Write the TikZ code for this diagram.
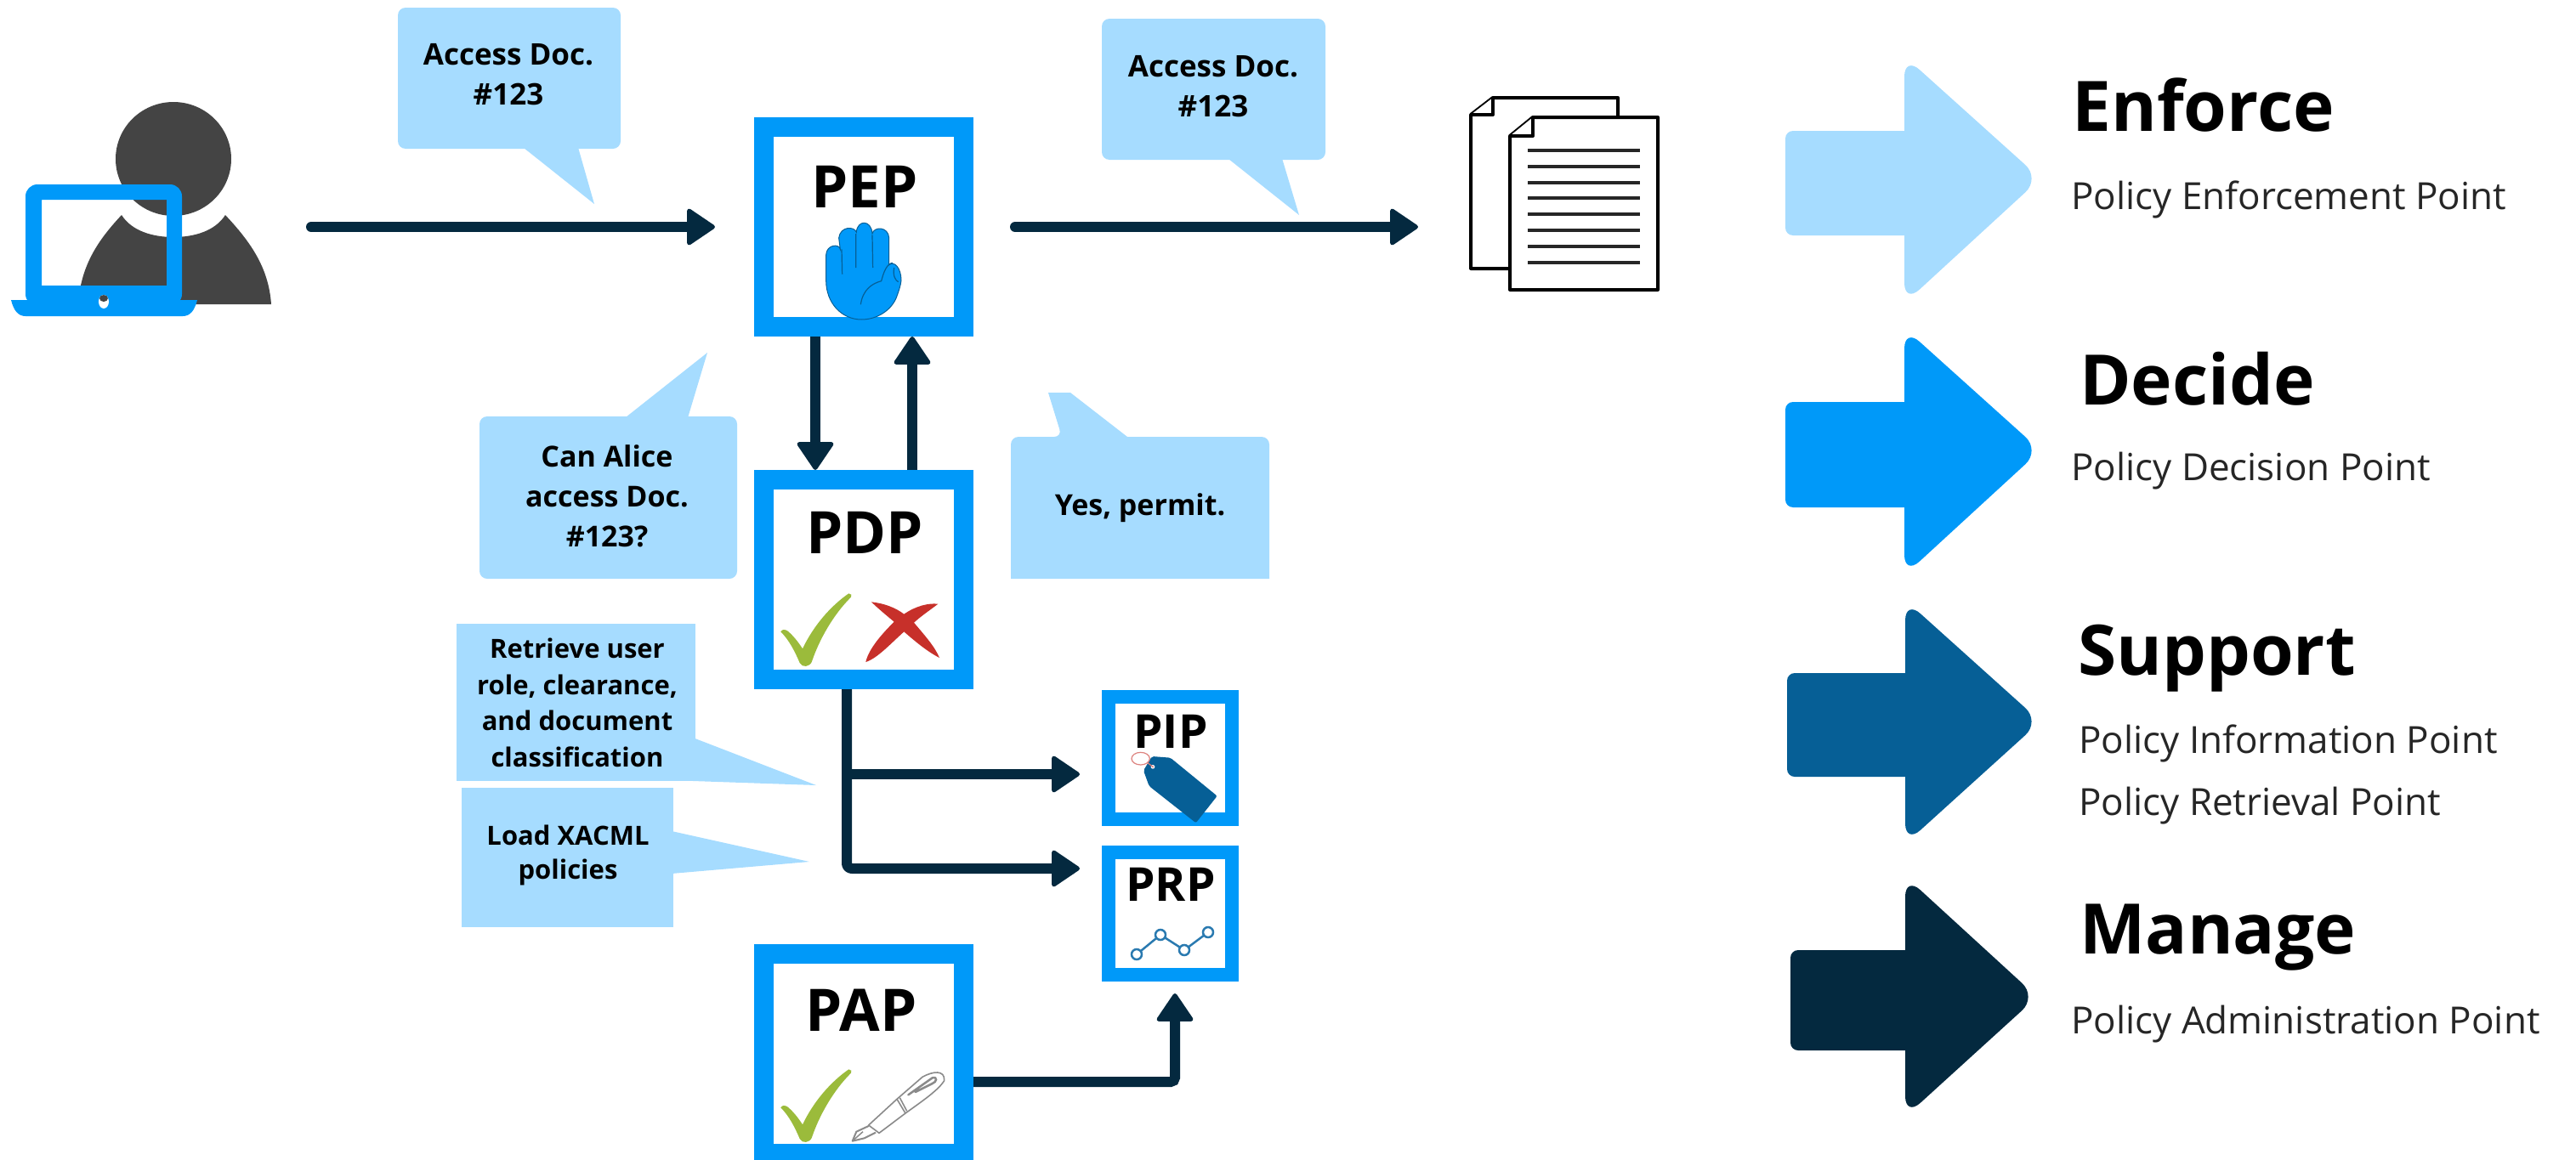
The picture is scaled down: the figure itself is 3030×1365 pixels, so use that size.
\documentclass[tikz,border=0pt]{standalone}
\usepackage{fontspec}
\setmainfont{Open Sans}
\usetikzlibrary{arrows.meta}
\definecolor{lightb}{HTML}{A6DCFF}
\definecolor{brightb}{HTML}{0099F9}
\definecolor{midb}{HTML}{065F96}
\definecolor{darkb}{HTML}{04293F}
\definecolor{persong}{HTML}{444444}
\definecolor{okgreen}{HTML}{9BBB3B}
\definecolor{nored}{HTML}{C7302A}
\definecolor{penline}{HTML}{8A8A8A}
\definecolor{chartb}{HTML}{2A7AB0}
\newcommand{\fs}[2]{\fontsize{#1}{#2}\selectfont}
\newcommand{\greencheck}[2]{%
  \begin{scope}[shift={(#1,#2)},scale=1/3]
    \fill[okgreen] (55,190) .. controls (60,180) and (72,182) .. (80,188) .. controls (100,205) and (118,228) .. (132,250) .. controls (170,170) and (230,100) .. (295,55) .. controls (303,55) and (308,62) .. (303,68) .. controls (240,130) and (190,220) .. (165,295) .. controls (158,315) and (130,318) .. (122,300) .. controls (105,260) and (85,220) .. (55,190) -- cycle;
  \end{scope}}
\newcommand{\bigarrow}[9]{% colour, left, baseX, apexTop, shaftTop, tipY, shaftBot, apexBot, tipX
  \fill[#1,rounded corners=9pt] (#2,#5) [sharp corners] -- (#3,#5) [rounded corners=24pt] -- (#3,#4) -- (#9,#6) -- (#3,#8) [sharp corners] -- (#3,#7) [rounded corners=9pt] -- (#2,#7) -- cycle;}
\tikzset{
  bubble/.style={fill=lightb,rounded corners=9pt,minimum width=#1},
  bubbletail/.style={fill=lightb},
  boxbig/.style={draw=brightb,fill=white,line width=23pt,minimum width=235pt,minimum height=235pt,inner sep=0pt},
  boxsmall/.style={draw=brightb,fill=white,line width=16pt,minimum width=145pt,minimum height=144pt,inner sep=0pt},
  conn/.style={draw=darkb,line width=12pt,line cap=round,-{Triangle[length=35pt,width=46pt,line width=5pt,round]},color=darkb},
  bublabel/.style={font=\bfseries\fs{35}{47},align=center,text=black,inner sep=0pt},
  smalllabel/.style={font=\bfseries\fs{31}{42.5},align=center,text=black,inner sep=0pt},
  bigbox text/.style={font=\bfseries\fs{69}{80},anchor=base,inner sep=0pt},
  smallbox text/.style={font=\bfseries\fs{55}{60},anchor=base,inner sep=0pt},
  headtxt/.style={font=\bfseries\fs{82}{90},anchor=base west,inner sep=0pt},
  subtxt/.style={font=\fs{44}{50},anchor=base west,inner sep=0pt,text=black!85},
  doc/.style={draw=black,fill=white,line width=4pt,line join=round},
}
\begin{document}
\begin{tikzpicture}[x=1pt,y=-1pt]
\useasboundingbox (0,0) rectangle (3030,1365);
% person and laptop
\fill[persong] (204,187) ellipse [x radius=68,y radius=67];
\fill[persong] (92,358) .. controls (95,310) and (118,280) .. (143,253) .. controls (155,272) and (180,279) .. (204,279) .. controls (228,279) and (253,272) .. (265,253) .. controls (295,285) and (316,315) .. (319,358) -- cycle;
\fill[brightb,even odd rule,rounded corners=14pt] (30,217) rectangle (214,360) [sharp corners] (49,235) rectangle (196,336);
\fill[brightb] (13,353) -- (232,353) .. controls (229,365) and (224,372) .. (215,372) -- (30,372) .. controls (21,372) and (16,365) .. (13,353) -- cycle;
\fill[white] (122,355) ellipse [x radius=6,y radius=8];
\fill[persong] (122,351) ellipse [x radius=5,y radius=4];
% bubbles
\fill[bubbletail] (611,170) -- (699,240) -- (679,170) -- cycle;
\node[bubble=262pt,minimum height=166pt] (b1) at (599,92) {};
\node[bublabel] (b1t) at (598,88) {Access Doc.\\\#123};
\fill[bubbletail] (1440,183) -- (1528,253) -- (1507,183) -- cycle;
\node[bubble=263pt,minimum height=166pt] (b2) at (1427.5,105) {};
\node[bublabel] (b2t) at (1427,102) {Access Doc.\\\#123};
\fill[bubbletail] (731,495) -- (832,415) -- (808,495) -- cycle;
\node[bubble=303pt,minimum height=191pt] (b3) at (715.5,585.5) {};
\node[bublabel,font=\bfseries\fs{34}{47}] (b3t) at (714,584) {Can Alice\\access Doc.\\\#123?};
\fill[bubbletail,rounded corners=9pt] (1189,681) -- (1189,514) -- (1249,514) [sharp corners] -- (1233,462) -- (1259,462) -- (1326,514) [rounded corners=9pt] -- (1493,514) [sharp corners] -- (1493,681) -- cycle;
\node[bublabel,font=\bfseries\fs{34}{47},anchor=center] (b4t) at (1341,598) {Yes, permit.};
\fill[bubbletail] (537,734) rectangle (818,919);
\fill[bubbletail] (815,868) -- (960,924) -- (815,919) -- cycle;
\node[smalllabel] (b5t) at (679,827) {Retrieve user\\role, clearance,\\and document\\classification};
\fill[bubbletail] (543,927) rectangle (792,1091);
\fill[bubbletail] (790,978) -- (952,1014) -- (790,1028) -- cycle;
\node[smalllabel,font=\bfseries\fs{31}{40}] (b6t) at (668,1006) {Load XACML\\policies};
% boxes
\node[boxbig] (pep) at (1016,267) {};
\node[boxbig] (pdp) at (1016,682) {};
\node[boxbig] (pap) at (1016,1239.5) {};
\node[boxsmall] (pip) at (1376.5,892) {};
\node[boxsmall] (prp) at (1376.5,1075) {};
\node[bigbox text] (peptxt) at (1017,244) {PEP};
\node[bigbox text] (pdptxt) at (1017,651) {PDP};
\node[bigbox text] (paptxt) at (1013,1213) {PAP};
\node[smallbox text] (piptxt) at (1377,880) {PIP};
\node[smallbox text] (prptxt) at (1377,1060) {PRP};
% hand
\begin{scope}[shift={(880,130)},scale=1/3]
  \fill[brightb,draw=midb,line width=1pt] (275,600) -- (275,510) .. controls (277,472) and (322,470) .. (325,490) -- (320,450) .. controls (325,408) and (375,408) .. (382,430) .. controls (385,385) and (435,385) .. (438,435) .. controls (445,408) and (495,410) .. (497,450) -- (497,545) .. controls (515,530) and (540,555) .. (540,600) .. controls (538,620) and (530,640) .. (525,655) .. controls (510,700) and (460,738) .. (400,738) .. controls (330,738) and (275,680) .. (275,600) -- cycle;
  \draw[midb,line width=1.2pt] (330,490) -- (332,578) (380,435) -- (380,555) (438,440) -- (440,555);
  \draw[midb,line width=1.2pt] (397,685) .. controls (405,630) and (440,610) .. (470,602) .. controls (478,570) and (490,540) .. (510,538);
  \draw[midb,line width=1.2pt] (515,555) .. controls (510,585) and (520,600) .. (530,605);
\end{scope}
% checks and cross
\greencheck{900}{680}
\greencheck{900}{1240}
\begin{scope}[shift={(900,680)},scale=1/3]
  \fill[nored] (375,85) .. controls (420,90) and (460,105) .. (490,128) .. controls (530,100) and (575,88) .. (610,92) .. controls (580,115) and (550,135) .. (525,158) .. controls (565,205) and (600,245) .. (615,282) .. controls (575,262) and (530,225) .. (490,190) .. controls (445,230) and (395,285) .. (355,297) .. controls (365,250) and (415,195) .. (455,155) .. controls (425,130) and (395,105) .. (375,85) -- cycle;
\end{scope}
% pen
\begin{scope}[shift={(890,1230)},scale=1/3]
  \draw[penline,line width=1.6pt,line join=round] (395,282) -- (495,190) -- (585,112) .. controls (620,92) and (665,85) .. (662,125) .. controls (640,160) and (580,200) .. (525,240) -- (432,310) .. controls (420,300) and (405,290) .. (395,282) -- cycle;
  \draw[penline,line width=1.6pt] (495,190) -- (525,240) (505,185) -- (530,232);
  \draw[penline,line width=2.5pt,line cap=round] (535,175) -- (620,115) .. controls (640,110) and (635,130) .. (620,135) -- (560,165);
  \draw[penline,line width=2pt,line join=round] (395,285) -- (352,305) -- (338,338) -- (380,328) -- (420,308);
  \draw[penline,line width=1.5pt] (338,338) -- (375,305);
\end{scope}
% tag
\begin{scope}[shift={(1290,800)},scale=1/3]
  \fill[midb,rounded corners=2pt] (165,320) -- (195,270) -- (260,275) -- (425,410) -- (350,505) -- (185,375) -- cycle;
  \fill[white] (198,307) circle [radius=7];
  \fill[nored!55] (198,307) circle [radius=3.5];
  \draw[nored!60,line width=1.2pt] (155,278) ellipse [x radius=32,y radius=22];
  \draw[nored!60,line width=1.2pt] (180,293) -- (198,307);
\end{scope}
% chart
\coordinate (c1) at (1337,1123);
\coordinate (c2) at (1365,1100);
\coordinate (c3) at (1393,1118);
\coordinate (c4) at (1421,1097);
\draw[chartb,line width=2.5pt] (c1) -- (c2) -- (c3) -- (c4);
\foreach \c in {c1,c2,c3,c4} \draw[chartb,line width=2.5pt,fill=white] (\c) circle [radius=6];
% documents
\draw[doc,fill=white] (1756,115) -- (1903,115) -- (1903,316) -- (1730,316) -- (1730,135) -- cycle;
\draw[doc] (1756,115) -- (1756,135) -- (1730,135);
\draw[doc] (1803,138) -- (1950,138) -- (1950,341) -- (1776,341) -- (1776,160) -- cycle;
\draw[doc] (1803,138) -- (1803,160) -- (1776,160);
\foreach \y in {177,196,215,233,252,271,290,309} \draw[black!85,line width=3.5pt] (1797,\y) -- (1929,\y);
% connectors
\coordinate (userout) at (366,267);
\coordinate (pepin) at (841,267);
\coordinate (pepout) at (1194,267);
\coordinate (docin) at (1668,267);
\coordinate (dnx) at (959,0);
\coordinate (upx) at (1073,0);
\coordinate (brx) at (996,0);
\coordinate (pipin) at (1270,911);
\coordinate (prpin) at (1270,1022);
\coordinate (pipbr) at (1002,911);
\coordinate (prpup) at (1382,1169);
\coordinate (papelbow) at (1382,1273);
\coordinate (papout) at (1145,1273);
\draw[conn] (userout) -- (pepin);
\draw[conn] (pepout) -- (docin);
\draw[conn,line cap=butt] (pep.south -| dnx) -- (pdp.north -| dnx);
\draw[conn,line cap=butt] (pdp.north -| upx) -- (pep.south -| upx);
\draw[conn,line cap=butt,line join=round,rounded corners=6pt] (pdp.south -| brx) -- (brx |- prpin) -- (prpin);
\draw[conn] (pipbr) -- (pipin);
\draw[conn,line cap=butt,rounded corners=5pt] (papout) -- (papelbow) -- (prpup);
% legend arrows
\bigarrow{lightb}{2100}{2240}{66}{154}{210}{277}{357}{2400}
\bigarrow{brightb}{2100}{2240}{386}{473}{530}{597}{677}{2400}
\bigarrow{midb}{2102}{2241}{706}{792}{849}{914}{993}{2400}
\bigarrow{darkb}{2106}{2241}{1031}{1118}{1173}{1236}{1314}{2396}
% legend text
\node[headtxt] (h1) at (2437,154) {Enforce};
\node[subtxt] (s1) at (2436,246) {Policy Enforcement Point};
\node[headtxt] (h2) at (2446,476) {Decide};
\node[subtxt] (s2) at (2436,565) {Policy Decision Point};
\node[headtxt] (h3) at (2444,794) {Support};
\node[subtxt] (s3) at (2445,886) {Policy Information Point};
\node[subtxt] (s4) at (2445,959) {Policy Retrieval Point};
\node[headtxt] (h4) at (2446,1122) {Manage};
\node[subtxt] (s5) at (2436,1216) {Policy Administration Point};
\end{tikzpicture}
\end{document}
